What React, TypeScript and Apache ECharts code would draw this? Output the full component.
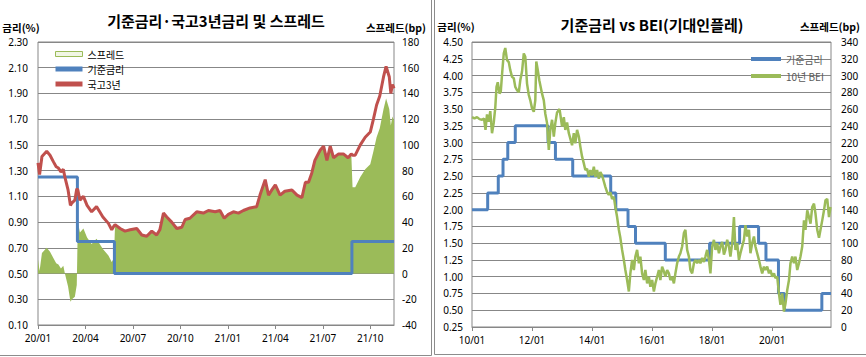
import React, { useEffect, useRef } from 'react';
import * as echarts from 'echarts';

// ---------- Left chart: months since 2020/01 ----------
const leftT = [
  0, 0.1, 0.25, 0.55, 0.76, 0.97, 1.15, 1.29, 1.45, 1.6,
  1.7, 1.9, 2.05, 2.15, 2.33, 2.45, 2.52, 2.65, 2.87, 3.1,
  3.39, 3.7, 3.9, 4.1, 4.45, 4.66, 4.8, 4.87, 5.19, 5.5,
  5.82, 6.24, 6.56, 6.87, 7.19, 7.5, 7.7, 7.93, 8.14, 8.45,
  8.77, 9.09, 9.3, 9.6, 10.03, 10.45, 10.77, 11.2, 11.5, 11.77,
  12.03, 12.35, 12.67, 12.98, 13.4, 13.82, 14.03, 14.36, 14.57, 14.78,
  15.0, 15.3, 15.6, 16.05, 16.37, 16.68, 16.9, 17.1, 17.3, 17.5,
  17.84, 18.05, 18.26, 18.47, 18.68, 19.0, 19.3, 19.6, 19.8, 19.88,
  20.05, 20.37, 20.68, 21.0, 21.2, 21.4, 21.6, 21.84, 22.0, 22.2,
  22.3, 22.4, 22.5,
];
// 국고3년 (%)
const gov3y = [
  1.36, 1.27, 1.41, 1.45, 1.42, 1.37, 1.33, 1.32, 1.29, 1.31,
  1.25, 1.15, 1.03, 1.05, 1.07, 1.16, 1.15, 1.07, 1.10, 1.03,
  0.98, 1.02, 0.98, 0.94, 0.89, 0.84, 0.87, 0.88, 0.85, 0.83,
  0.84, 0.85, 0.80, 0.79, 0.83, 0.80, 0.84, 0.97, 0.94, 0.90,
  0.85, 0.86, 0.92, 0.93, 0.98, 0.97, 0.99, 0.98, 0.99, 0.93,
  0.96, 0.98, 0.97, 0.99, 1.01, 1.02, 1.11, 1.23, 1.11, 1.15,
  1.19, 1.11, 1.14, 1.15, 1.11, 1.09, 1.21, 1.21, 1.28, 1.38,
  1.46, 1.49, 1.38, 1.49, 1.40, 1.43, 1.43, 1.40, 1.43, 1.42,
  1.42, 1.50, 1.56, 1.60, 1.70, 1.81, 1.88, 2.03, 2.11, 2.03,
  1.90, 1.97, 1.94,
];
// 스프레드 (bp)
const spreadBp = [
  11, 2, 16, 20, 17, 12, 8, 7, 4, 6,
  0, -10, -22, -20, -18, -9, 40, 32, 35, 28,
  23, 27, 23, 19, 14, 9, 12, 38, 35, 33,
  34, 35, 30, 29, 33, 30, 34, 47, 44, 40,
  35, 36, 42, 43, 48, 47, 49, 48, 49, 43,
  46, 48, 47, 49, 51, 52, 61, 73, 61, 65,
  69, 61, 64, 65, 61, 59, 71, 71, 78, 88,
  96, 99, 88, 99, 90, 93, 93, 90, 93, 67,
  67, 75, 81, 85, 95, 106, 113, 128, 136, 128,
  115, 122, 119,
];
// 기준금리 (step changes)
const baseLeftT = [0, 2.49, 4.83, 19.84, 22.5];
const baseLeftV = [1.25, 0.75, 0.5, 0.75, 0.75];

// ---------- Right chart: months since 2010/01 ----------
const rightT = [
  0, 1, 2, 3, 4, 4.8, 5.4, 6, 6.7, 7.3,
  8, 8.7, 9.3, 9.8, 10.3, 11, 11.5, 12.1, 12.7, 13.3,
  14, 14.7, 15.3, 16, 16.7, 17.3, 18, 18.7, 19.3, 20,
  20.7, 21.3, 22, 22.7, 23.3, 24, 24.7, 25.3, 25.7, 26.3,
  26.9, 28, 28.7, 29.3, 30, 30.7, 31.3, 32, 32.7, 33.3,
  34, 35, 36, 36.7, 37.3, 38, 38.7, 39.3, 40, 40.7,
  41.3, 42, 42.7, 43.3, 44, 44.7, 45.3, 46, 46.7, 47.3,
  48, 48.7, 49.3, 50, 50.7, 51.3, 52, 52.7, 53.3, 54,
  54.7, 55.3, 56, 56.7, 57.3, 58, 58.7, 59.3, 60, 60.7,
  61.3, 62, 62.7, 63.3, 64, 64.7, 65.3, 66, 66.7, 67.3,
  68, 68.7, 69.3, 70, 70.7, 71.3, 72, 72.7, 73.3, 74,
  74.7, 75.3, 76, 76.7, 77.3, 78, 78.7, 79.3, 80, 80.7,
  81.3, 82, 82.7, 83.3, 84, 84.7, 85.3, 86, 86.7, 87.3,
  88, 88.7, 89.3, 90, 90.7, 91.3, 92, 92.7, 93.3, 94,
  94.7, 95.3, 96, 96.7, 97.3, 98, 98.7, 99.3, 100, 100.7,
  101.3, 102, 102.7, 103.3, 104, 104.7, 105.3, 106, 106.7, 107.3,
  108, 108.7, 109.3, 110, 110.7, 111.3, 112, 112.7, 113.3, 114,
  114.7, 115.3, 116, 116.7, 117.3, 118, 118.7, 119.3, 120, 120.7,
  121.3, 122, 122.7, 123.3, 124, 124.7, 125.3, 126, 126.7, 127.3,
  128, 128.7, 129.3, 130, 130.7, 131.3, 132, 132.7, 133.3, 134,
  134.7, 135.3, 136, 136.7, 137.3, 138, 138.7, 139.3, 140, 140.7,
  141.3, 142, 142.7, 143.3,
];
// 10년 BEI (%)
const bei10y = [
  3.38, 3.36, 3.38, 3.35, 3.34, 3.36, 3.19, 3.42, 3.31, 3.47,
  3.14, 3.30, 3.52, 3.83, 3.90, 3.73, 3.76, 4.06, 4.33, 4.41,
  4.23, 4.20, 4.08, 3.98, 3.96, 3.83, 3.78, 3.75, 3.93, 4.06,
  4.33, 4.28, 3.88, 3.71, 3.63, 3.51, 3.46, 3.63, 4.21, 4.08,
  3.93, 3.73, 3.63, 3.43, 3.29, 2.89, 3.19, 3.34, 3.09, 3.29,
  3.45, 3.50, 3.24, 3.38, 3.19, 3.30, 3.14, 3.06, 2.96, 3.14,
  2.99, 3.19, 3.09, 2.94, 2.79, 2.69, 2.59, 2.61, 2.49, 2.59,
  2.51, 2.64, 2.49, 2.59, 2.46, 2.56, 2.51, 2.42, 2.34, 2.26,
  2.22, 2.26, 2.16, 2.19, 2.04, 1.89, 1.70, 1.58, 1.40, 1.25,
  1.10, 0.95, 0.78, 1.05, 1.25, 1.10, 1.30, 1.40, 1.20, 1.30,
  1.05, 0.95, 1.10, 0.90, 1.00, 0.85, 0.95, 0.78, 0.90, 1.00,
  1.10, 0.95, 1.15, 1.08, 1.00, 1.10, 1.05, 0.95, 1.00, 0.90,
  1.05, 1.20, 1.30, 1.35, 1.45, 1.65, 1.70, 1.40, 1.30, 1.10,
  1.05, 1.20, 1.25, 1.20, 1.25, 1.20, 1.28, 1.22, 1.30, 1.40,
  1.25, 1.05, 1.45, 1.55, 1.40, 1.50, 1.35, 1.45, 1.52, 1.33,
  1.40, 1.55, 1.45, 1.30, 1.50, 1.89, 1.40, 1.50, 1.25, 1.35,
  1.45, 1.55, 1.77, 1.60, 1.70, 1.35, 1.50, 1.60, 1.45, 1.35,
  1.25, 1.15, 1.05, 1.15, 1.10, 1.15, 1.05, 1.10, 1.00, 1.05,
  0.98, 1.00, 0.75, 0.58, 0.75, 0.48, 0.60, 0.80, 0.95, 1.20,
  1.30, 1.20, 1.30, 1.10, 1.20, 1.30, 1.45, 1.84, 1.70, 1.99,
  1.89, 1.79, 2.04, 2.09, 1.94, 1.70, 1.58, 1.70, 1.84, 1.99,
  2.14, 2.16, 1.89, 2.04,
];
// 기준금리 (step changes, months since 2010/01)
const baseRightT = [
  0, 6.27, 10.5, 12.4, 14.3, 17.3, 30.4, 33.35, 40.26, 55.45,
  57.48, 62.37, 65.35, 77.27, 94.97, 106.97, 114.55, 117.5, 122.5, 124.9,
  139.84, 143.5,
];
const baseRightV = [
  2.0, 2.25, 2.5, 2.75, 3.0, 3.25, 3.0, 2.75, 2.5, 2.25,
  2.0, 1.75, 1.5, 1.25, 1.5, 1.75, 1.5, 1.25, 0.75, 0.5,
  0.75, 0.75,
];

const FONT = "'Noto Sans', 'Noto Sans CJK KR', sans-serif";
const KFONT = "'Noto Sans CJK KR', 'Noto Sans', sans-serif";
const GRID = '#878787';
const BLUE = '#4F81BD';
const RED = '#C0504D';
const GREEN = '#9BBB59';

const zip = (xs: number[], ys: number[]) => xs.map((x, i) => [x, ys[i]]);
const pad = (n: number) => (n < 10 ? '0' + n : '' + n);
const monthLabel = (startYear: number) => (v: number) => {
  if (Math.abs(v - Math.round(v)) > 1e-6) return '';
  const m = Math.round(v);
  return `${pad((startYear + Math.floor(m / 12)) % 100)}/${pad((m % 12) + 1)}`;
};

const xAxisBase = {
  type: 'value',
  splitLine: { show: false },
  axisLine: { show: true, onZero: false, lineStyle: { color: GRID } },
  axisTick: { show: true, length: 4, lineStyle: { color: GRID } },
};
const yLabel = { fontSize: 10, color: '#000', fontFamily: FONT };

function buildOption() {
  return {
    animation: false,
    backgroundColor: '#fff',
    textStyle: { fontFamily: FONT },
    grid: [
      { left: 38, top: 42, width: 356, height: 283, show: true, borderColor: GRID, borderWidth: 1, backgroundColor: '#fff' },
      { left: 472, top: 42, width: 359, height: 285, show: true, borderColor: GRID, borderWidth: 1, backgroundColor: '#fff' },
    ],
    xAxis: [
      {
        ...xAxisBase, gridIndex: 0, min: 0, max: 22.5, interval: 3,
        axisLabel: { ...yLabel, margin: 8, showMaxLabel: false, formatter: monthLabel(2020) },
      },
      {
        ...xAxisBase, gridIndex: 1, min: 0, max: 143.5, interval: 24,
        axisLabel: { ...yLabel, margin: 8, showMaxLabel: false, formatter: monthLabel(2010) },
      },
    ],
    yAxis: [
      {
        type: 'value', gridIndex: 0, position: 'left', min: 0.1, max: 2.3, interval: 0.2,
        axisLine: { show: false }, axisTick: { show: false },
        splitLine: { show: true, lineStyle: { color: GRID, width: 1 } },
        axisLabel: { ...yLabel, margin: 10, formatter: (v: number) => v.toFixed(2) },
      },
      {
        type: 'value', gridIndex: 0, position: 'right', min: -40, max: 180, interval: 20,
        axisLine: { show: false }, axisTick: { show: false }, splitLine: { show: false },
        axisLabel: { ...yLabel, margin: 8, align: 'left' },
      },
      {
        type: 'value', gridIndex: 1, position: 'left', min: 0.25, max: 4.5, interval: 0.25,
        axisLine: { show: false }, axisTick: { show: false },
        splitLine: { show: true, lineStyle: { color: GRID, width: 1 } },
        axisLabel: { ...yLabel, margin: 9, formatter: (v: number) => v.toFixed(2) },
      },
      {
        type: 'value', gridIndex: 1, position: 'right', min: 0, max: 340, interval: 20,
        axisLine: { show: false }, axisTick: { show: false }, splitLine: { show: false },
        axisLabel: { ...yLabel, margin: 10, align: 'left' },
      },
    ],
    legend: [
      {
        orient: 'vertical', left: 50, top: 44, itemWidth: 27, itemHeight: 5, itemGap: 5,
        selectedMode: false,
        textStyle: { fontSize: 10, lineHeight: 10, color: '#000', fontFamily: KFONT },
        data: [
          { name: '스프레드', icon: 'rect', itemStyle: { color: '#f1f6e4', borderColor: GREEN, borderWidth: 1 } },
          { name: '기준금리', icon: 'rect', itemStyle: { color: BLUE, borderWidth: 0 } },
          { name: '국고3년', icon: 'rect', itemStyle: { color: RED, borderWidth: 0 } },
        ],
      },
      {
        orient: 'vertical', left: 746, top: 49, itemWidth: 30, itemHeight: 4, itemGap: 7,
        selectedMode: false,
        textStyle: { fontSize: 10, lineHeight: 10, color: '#595959', fontFamily: KFONT },
        data: [
          { name: '기준금리', icon: 'rect', itemStyle: { color: BLUE, borderWidth: 0 } },
          { name: '10년 BEI', icon: 'rect', itemStyle: { color: GREEN, borderWidth: 0 } },
        ],
      },
    ],
    graphic: [
      { type: 'rect', silent: true, z: 100, shape: { x: -1, y: -1, width: 432.5, height: 356.5 }, style: { fill: 'none', stroke: '#8c8c8c', lineWidth: 1 } },
      { type: 'rect', silent: true, z: 100, shape: { x: 434.5, y: -1, width: 440, height: 355.5 }, style: { fill: 'none', stroke: '#8c8c8c', lineWidth: 1 } },
      { type: 'text', x: 216, y: 20, style: { text: '기준금리·국고3년금리 및 스프레드', font: `bold 15px ${KFONT}`, fill: '#000', align: 'center', verticalAlign: 'middle' } },
      { type: 'text', x: 652, y: 24, style: { text: '기준금리 vs BEI(기대인플레)', font: `bold 15px ${KFONT}`, fill: '#000', align: 'center', verticalAlign: 'middle' } },
      { type: 'text', x: 21, y: 27, style: { text: '금리(%)', font: `bold 10.5px ${KFONT}`, fill: '#000', align: 'center', verticalAlign: 'middle' } },
      { type: 'text', x: 396, y: 27, style: { text: '스프레드(bp)', font: `bold 10.5px ${KFONT}`, fill: '#000', align: 'center', verticalAlign: 'middle' } },
      { type: 'text', x: 456, y: 26, style: { text: '금리(%)', font: `bold 10.5px ${KFONT}`, fill: '#000', align: 'center', verticalAlign: 'middle' } },
      { type: 'text', x: 830, y: 26, style: { text: '스프레드(bp)', font: `bold 10.5px ${KFONT}`, fill: '#000', align: 'center', verticalAlign: 'middle' } },
    ],
    series: [
      {
        name: '스프레드', type: 'line', xAxisIndex: 0, yAxisIndex: 1, z: 1,
        data: zip(leftT, spreadBp), symbol: 'none', color: GREEN,
        lineStyle: { width: 0 }, areaStyle: { color: GREEN, opacity: 1 },
      },
      {
        name: '기준금리', type: 'line', xAxisIndex: 0, yAxisIndex: 0, z: 2, step: 'end',
        data: zip(baseLeftT, baseLeftV), symbol: 'none', color: BLUE,
        lineStyle: { width: 3, color: BLUE },
      },
      {
        name: '국고3년', type: 'line', xAxisIndex: 0, yAxisIndex: 0, z: 3,
        data: zip(leftT, gov3y), symbol: 'none', color: RED,
        lineStyle: { width: 3, color: RED },
      },
      {
        name: '기준금리', type: 'line', xAxisIndex: 1, yAxisIndex: 2, z: 2, step: 'end',
        data: zip(baseRightT, baseRightV), symbol: 'none', color: BLUE,
        lineStyle: { width: 3, color: BLUE },
      },
      {
        name: '10년 BEI', type: 'line', xAxisIndex: 1, yAxisIndex: 2, z: 3,
        data: zip(rightT, bei10y), symbol: 'none', color: GREEN,
        lineStyle: { width: 2.5, color: GREEN },
      },
    ],
  };
}

export default function App() {
  const ref = useRef<HTMLDivElement>(null);
  useEffect(() => {
    if (!ref.current) return;
    const chart = echarts.init(ref.current, null, { renderer: 'svg' });
    chart.setOption(buildOption() as any);
    return () => chart.dispose();
  }, []);
  return (
    <div
      ref={ref}
      style={{ position: 'absolute', left: 0, top: 0, width: 866, height: 357, background: '#fff' }}
    />
  );
}
